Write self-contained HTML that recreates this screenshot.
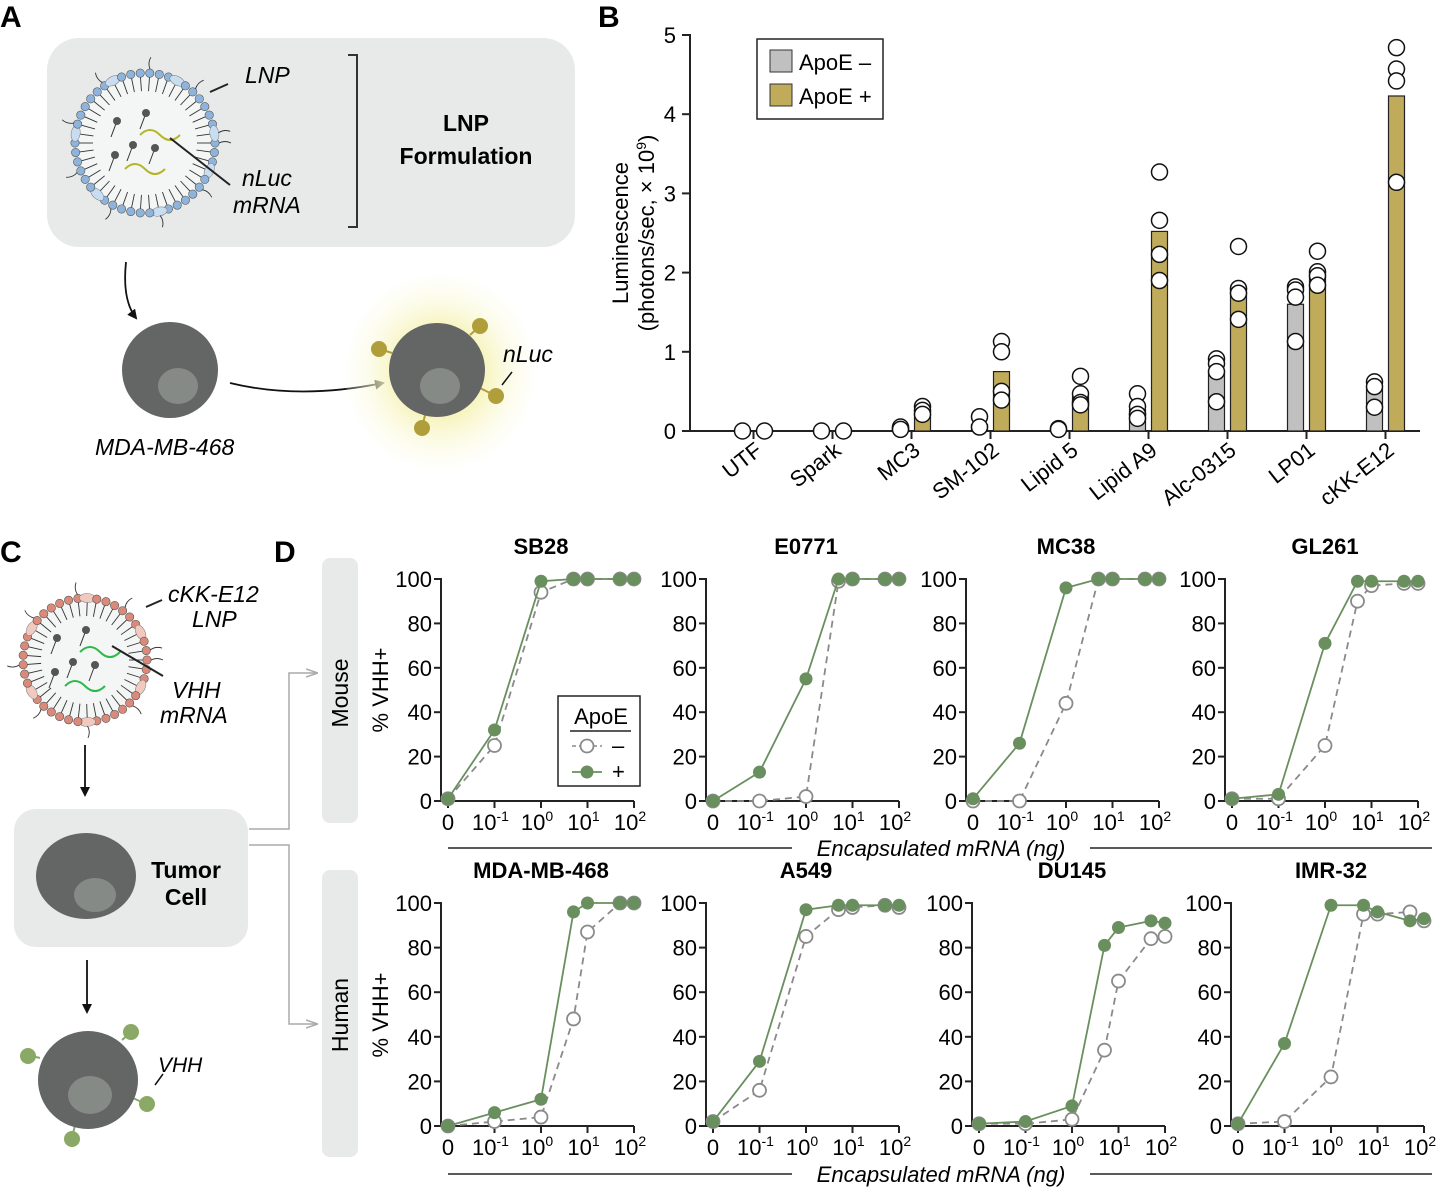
<!DOCTYPE html>
<html><head><meta charset="utf-8"><style>
html,body{margin:0;padding:0;background:#fff}
svg{display:block;font-family:"Liberation Sans",Arial,sans-serif}
</style></head><body>
<svg id="fig" width="1442" height="1187" viewBox="0 0 1442 1187" xmlns="http://www.w3.org/2000/svg">
<defs>
<marker id="ah" markerWidth="10" markerHeight="10" refX="8" refY="5" orient="auto" markerUnits="userSpaceOnUse"><path d="M0,0 L10,5 L0,10 z" fill="#111"/></marker>
<marker id="ahg" markerWidth="12" markerHeight="10" refX="11" refY="5" orient="auto" markerUnits="userSpaceOnUse"><path d="M0,1 L12,5 L0,9" fill="none" stroke="#aaa" stroke-width="1.5"/></marker>
<radialGradient id="glow"><stop offset="0.45" stop-color="#f6f3b8"/><stop offset="1" stop-color="#fdfdf0" stop-opacity="0.2"/></radialGradient>
</defs>
<g font-weight="bold" font-size="30">
<text x="0" y="27">A</text>
<text x="598" y="27">B</text>
<text x="0" y="562">C</text>
<text x="274" y="562">D</text>
</g>
<!-- Panel A -->
<g>
<rect x="47" y="38" width="528" height="209" rx="32" fill="#e8e9e9"/>
<g id="lnpA"></g>
<line x1="210" y1="92" x2="228" y2="84" stroke="#222" stroke-width="2"/>
<line x1="170" y1="138" x2="230" y2="185" stroke="#222" stroke-width="2"/>
<text x="245" y="83" font-size="23" font-style="italic">LNP</text>
<text x="242" y="186" font-size="23" font-style="italic">nLuc</text>
<text x="233" y="213" font-size="23" font-style="italic">mRNA</text>
<path d="M348,55 H357 V227 H348" fill="none" stroke="#333" stroke-width="2"/>
<text x="466" y="131" font-size="23" font-weight="bold" text-anchor="middle">LNP</text>
<text x="466" y="164" font-size="23" font-weight="bold" text-anchor="middle">Formulation</text>
<path d="M126,262 Q122,300 136,318" fill="none" stroke="#111" stroke-width="1.8" marker-end="url(#ah)"/>
<ellipse cx="170" cy="370" rx="48" ry="48" fill="#646565"/>
<ellipse cx="178" cy="386" rx="20" ry="18" fill="#868a87"/>
<text x="95" y="455" font-size="23" font-style="italic">MDA-MB-468</text>
<path d="M230,383 Q300,400 383,383" fill="none" stroke="#111" stroke-width="1.8" marker-end="url(#ah)"/>
<ellipse cx="440" cy="372" rx="95" ry="98" fill="url(#glow)" opacity="0.95"/>
<g stroke="#b09e3a" stroke-width="2"><line x1="392" y1="353" x2="380" y2="349"/><line x1="470" y1="335" x2="480" y2="326"/><line x1="480" y1="388" x2="496" y2="396"/><line x1="425" y1="415" x2="422" y2="428"/></g>
<ellipse cx="437" cy="370" rx="48" ry="47" fill="#646565"/>
<ellipse cx="440" cy="386" rx="20" ry="18" fill="#868a87"/>
<g fill="#b09e3a"><circle cx="379" cy="349" r="8"/><circle cx="480" cy="326" r="8"/><circle cx="496" cy="396" r="8"/><circle cx="422" cy="428" r="8"/></g>
<line x1="502" y1="385" x2="512" y2="372" stroke="#111" stroke-width="1.5"/>
<text x="503" y="362" font-size="23" font-style="italic">nLuc</text>
</g>
<!-- Panel C -->
<g>
<g id="lnpC"></g>
<line x1="146" y1="607" x2="162" y2="600" stroke="#222" stroke-width="2"/>
<line x1="112" y1="646" x2="163" y2="676" stroke="#222" stroke-width="2"/>
<text x="168" y="602" font-size="23" font-style="italic">cKK-E12</text>
<text x="192" y="627" font-size="23" font-style="italic">LNP</text>
<text x="172" y="698" font-size="23" font-style="italic">VHH</text>
<text x="160" y="723" font-size="23" font-style="italic">mRNA</text>
<line x1="85" y1="745" x2="85" y2="795" stroke="#111" stroke-width="1.8" marker-end="url(#ah)"/>
<rect x="14" y="809" width="234" height="138" rx="22" fill="#e8e9e9"/>
<ellipse cx="86" cy="876" rx="50" ry="43" fill="#646565"/>
<ellipse cx="95" cy="895" rx="21" ry="17" fill="#868a87"/>
<text x="186" y="878" font-size="23" font-weight="bold" text-anchor="middle">Tumor</text>
<text x="186" y="905" font-size="23" font-weight="bold" text-anchor="middle">Cell</text>
<line x1="87" y1="960" x2="87" y2="1012" stroke="#111" stroke-width="1.8" marker-end="url(#ah)"/>
<g stroke="#8aa866" stroke-width="2"><line x1="40" y1="1058" x2="28" y2="1055"/><line x1="122" y1="1040" x2="130" y2="1033"/><line x1="133" y1="1098" x2="146" y2="1104"/><line x1="75" y1="1125" x2="72" y2="1138"/></g>
<ellipse cx="88" cy="1080" rx="50" ry="49" fill="#646565"/>
<ellipse cx="90" cy="1095" rx="22" ry="19" fill="#868a87"/>
<g fill="#8aa866"><circle cx="28" cy="1056" r="8"/><circle cx="131" cy="1032" r="8"/><circle cx="147" cy="1104" r="8"/><circle cx="72" cy="1139" r="8"/></g>
<line x1="155" y1="1085" x2="163" y2="1074" stroke="#111" stroke-width="1.5"/>
<text x="158" y="1072" font-size="21" font-style="italic">VHH</text>
<path d="M249,829 H289 V673 H317" fill="none" stroke="#aaa" stroke-width="1.5" marker-end="url(#ahg)"/>
<path d="M249,845 H289 V1024 H317" fill="none" stroke="#aaa" stroke-width="1.5" marker-end="url(#ahg)"/>
<rect x="322" y="558" width="36" height="265" rx="8" fill="#e8e9e9"/>
<rect x="322" y="870" width="36" height="287" rx="8" fill="#e8e9e9"/>
<text transform="translate(348,693) rotate(-90)" font-size="23" text-anchor="middle">Mouse</text>
<text transform="translate(348,1015) rotate(-90)" font-size="23" text-anchor="middle">Human</text>
</g>
<g id="panelB"></g>
<g id="panelD"></g>
</svg>
<script>
// ===== Panel B data =====
const bCategories = ["UTF","Spark","MC3","SM-102","Lipid 5","Lipid A9","Alc-0315","LP01","cKK-E12"];
const bMinusMeans = [0,0,0.03,0.08,0.02,0.27,0.73,1.6,0.53];
const bPlusMeans  = [0,0,0.24,0.75,0.43,2.52,1.8,2.0,4.23];
const bMinusPoints = [[0],[0],[0.03,0.05,0.02],[0.18,0.05],[0.03,0.02],[0.47,0.31,0.21,0.16],[0.91,0.85,0.75,0.37],[1.82,1.78,1.69,1.13],[0.62,0.56,0.30]];
const bPlusPoints  = [[0],[0],[0.31,0.26,0.21],[1.13,1.0,0.5,0.39],[0.69,0.47,0.36,0.33],[3.27,2.66,2.23,1.9],[2.33,1.8,1.74,1.41],[2.27,2.01,1.96,1.84],[4.84,4.57,4.42,3.14]];
const bTicks = [0,1,2,3,4,5];

// ===== Panel D data =====
const dDoses = [0,0.1,1,5,10,50,100];
const dTitles = ["SB28","E0771","MC38","GL261","MDA-MB-468","A549","DU145","IMR-32"];
const dMinus = [
 [1,25,94,100,100,100,100],
 [0,0,2,99,100,100,100],
 [0,0,44,100,100,100,100],
 [1,1,25,90,97,98,98],
 [0,2,4,48,87,100,100],
 [2,16,85,97,98,99,98],
 [1,1,3,34,65,84,85],
 [1,2,22,95,95,96,92]];
const dPlus = [
 [1,32,99,100,100,100,100],
 [0,13,55,100,100,100,100],
 [1,26,96,100,100,100,100],
 [1,3,71,99,99,99,99],
 [0,6,12,96,100,100,100],
 [2,29,97,99,99,99,99],
 [1,2,9,81,89,92,91],
 [1,37,99,99,96,92,93]];
const dYTicks = [0,20,40,60,80,100];
const dXTickLabels = [["0",""],["10","-1"],["10","0"],["10","1"],["10","2"]];

const NS="http://www.w3.org/2000/svg";
function mk(parent,tag,attrs,txt){const e=document.createElementNS(NS,tag);for(const k in attrs)e.setAttribute(k,attrs[k]);if(txt!==undefined)e.textContent=txt;parent.appendChild(e);return e;}

function drawLNP(gid,cx,cy,r,bead,oval,rna){
  const g=document.getElementById(gid);
  
  
  mk(g,'circle',{cx:cx,cy:cy,r:r,fill:'#f4f5f5'});
  const n=Math.round(2*Math.PI*r/9.5);
  for(let i=0;i<n;i++){const a=i/n*2*Math.PI;const c=Math.cos(a),s=Math.sin(a);
    mk(g,'line',{x1:cx+c*(r-4),y1:cy+s*(r-4),x2:cx+c*(r-18),y2:cy+s*(r-18),stroke:'#333','stroke-width':0.9});}
  for(let i=0;i<n;i++){const a=i/n*2*Math.PI;const c=Math.cos(a),s=Math.sin(a);
    if(i%7===3){mk(g,'ellipse',{cx:cx+c*r,cy:cy+s*r,rx:8,ry:4.5,fill:oval,stroke:'#777','stroke-width':0.5,transform:`rotate(${a*180/Math.PI+90} ${cx+c*r} ${cy+s*r})`});}
    else mk(g,'circle',{cx:cx+c*r,cy:cy+s*r,r:4.2,fill:bead,stroke:'#555','stroke-width':0.6});
    if(i%5===0)mk(g,'path',{d:`M${cx+c*(r+4)},${cy+s*(r+4)} q${c*6+s*3},${s*6-c*3} ${c*12},${s*12}`,fill:'none',stroke:'#333','stroke-width':0.9});}
  const lips=[[-28,-22],[1,-30],[-12,2],[10,5],[-30,12]];
  lips.forEach(p=>{mk(g,'line',{x1:cx+p[0],y1:cy+p[1],x2:cx+p[0]-6,y2:cy+p[1]+16,stroke:'#333','stroke-width':1});
    mk(g,'circle',{cx:cx+p[0],cy:cy+p[1],r:4,fill:'#555'});});
  mk(g,'path',{d:`M${cx-5},${cy-8} q10,-10 20,0 t20,0`,fill:'none',stroke:rna,'stroke-width':2});
  mk(g,'path',{d:`M${cx-20},${cy+26} q10,-10 20,0 t20,0`,fill:'none',stroke:rna,'stroke-width':2});
}
drawLNP('lnpA',145,143,70,'#8fb4dc','#c8ddf0','#b5b52a');
drawLNP('lnpC',85,660,62,'#d98a7a','#f2c9be','#2db84a');

// ===== Panel B chart =====
(function(){
  const g=document.getElementById('panelB');
  const X0=690, Y0=431, PX=79.2, XR=1420;
  const y=v=>Y0-v*PX;
  const cx=i=>753.5+i*79;
  mk(g,'line',{x1:X0,y1:y(5)-1,x2:X0,y2:Y0+1,stroke:'#222','stroke-width':2});
  mk(g,'line',{x1:X0,y1:Y0,x2:XR,y2:Y0,stroke:'#222','stroke-width':2});
  bTicks.forEach(t=>{
    const tk=mk(g,'line',{x1:X0-8,y1:y(t),x2:X0,y2:y(t),stroke:'#222','stroke-width':2});
    
    
    const tl=mk(g,'text',{x:X0-14,y:y(t)+8,'font-size':22,'text-anchor':'end'},String(t));
    
    
  });
  const yt=mk(g,'text',{transform:'translate(628,233) rotate(-90)','font-size':22,'text-anchor':'middle'});
  
  
  mk(yt,'tspan',{x:0,dy:0},'Luminescence');
  mk(yt,'tspan',{x:0,dy:26},'(photons/sec, × 10');
  mk(yt,'tspan',{dy:-8,'font-size':14},'9');
  mk(yt,'tspan',{dy:8},')');
  bCategories.forEach((c,i)=>{
    const tk=mk(g,'line',{x1:cx(i),y1:Y0,x2:cx(i),y2:Y0+8,stroke:'#222','stroke-width':2});
    
    
    const lb=mk(g,'text',{transform:`translate(${cx(i)+10},${Y0+22}) rotate(-38)`,'font-size':22,'text-anchor':'end'},c);
    
    
    [[bMinusMeans,bMinusPoints,'#c0c0c0',-11],[bPlusMeans,bPlusPoints,'#bfab5a',11]].forEach(([m,p,col,off])=>{
      const bx=cx(i)+off;
      if(m[i]>0){const b=mk(g,'rect',{x:bx-8,y:y(m[i]),width:16,height:Y0-y(m[i]),fill:col,stroke:'#222','stroke-width':1.2});
        
        }
      p[i].forEach(v=>{const d=mk(g,'circle',{cx:bx,cy:y(v),r:8,fill:'#fff',stroke:'#111','stroke-width':1.5});
        
        });
    });
  });
  const lg=mk(g,'g',{});
  
  
  mk(lg,'rect',{x:757,y:39,width:126,height:80,fill:'#fff',stroke:'#222','stroke-width':1.5});
  mk(lg,'rect',{x:770,y:50,width:22,height:22,fill:'#c0c0c0',stroke:'#333','stroke-width':1});
  mk(lg,'rect',{x:770,y:84,width:22,height:22,fill:'#bfab5a',stroke:'#333','stroke-width':1});
  const l1=mk(lg,'text',{x:799,y:70,'font-size':22},'ApoE –');
  
  
  const l2=mk(lg,'text',{x:799,y:104,'font-size':22},'ApoE +');
  
  
})();

// ===== Panel D charts =====
(function(){
  const g=document.getElementById('panelD');
  const x0s=[448,713,973,1232,448,713,979,1238];
  const ytop=[579,579,579,579,903,903,903,903];
  const ybot=[801,801,801,801,1126,1126,1126,1126];
  const DEC=46.5;
  const xpos=(k,d)=>x0s[k]+(d===0?0:(Math.log10(d)+2)*DEC);
  for(let k=0;k<8;k++){
    const sub=mk(g,'g',{});
    
    
    const yv=v=>ybot[k]-(ybot[k]-ytop[k])*v/100;
    const ax=x0s[k]-7;
    mk(sub,'line',{x1:ax,y1:ytop[k]-1,x2:ax,y2:ybot[k]+1,stroke:'#222','stroke-width':2});
    mk(sub,'line',{x1:ax,y1:ybot[k],x2:x0s[k]+4*DEC,y2:ybot[k],stroke:'#222','stroke-width':2});
    dYTicks.forEach(t=>{
      mk(sub,'line',{x1:ax-7,y1:yv(t),x2:ax,y2:yv(t),stroke:'#222','stroke-width':2});
      const tl=mk(sub,'text',{x:ax-9,y:yv(t)+8,'font-size':22,'text-anchor':'end'},String(t));
      
      
    });
    dXTickLabels.forEach((lab,j)=>{
      const tx=x0s[k]+j*DEC;
      mk(sub,'line',{x1:tx,y1:ybot[k],x2:tx,y2:ybot[k]+7,stroke:'#222','stroke-width':2});
      const t=mk(sub,'text',{x:tx-(lab[1]?4:0),y:ybot[k]+29,'font-size':22,'text-anchor':'middle'});
      
      
      mk(t,'tspan',{},lab[0]);
      if(lab[1])mk(t,'tspan',{dy:-9,'font-size':14},lab[1]);
    });
    const tt=mk(sub,'text',{x:x0s[k]+93,y:ytop[k]-25,'font-size':22,'font-weight':'bold','text-anchor':'middle'},dTitles[k]);
    
    
    const ptsM=dDoses.map((d,i)=>`${xpos(k,d)},${yv(dMinus[k][i])}`).join(' ');
    const ptsP=dDoses.map((d,i)=>`${xpos(k,d)},${yv(dPlus[k][i])}`).join(' ');
    const lm=mk(sub,'polyline',{points:ptsM,fill:'none',stroke:'#8a8a8a','stroke-width':1.8,'stroke-dasharray':'7,5'});
    
    
    dDoses.forEach((d,i)=>{const c=mk(sub,'circle',{cx:xpos(k,d),cy:yv(dMinus[k][i]),r:6.5,fill:'#fff',stroke:'#8a8a8a','stroke-width':1.8});
      
      });
    const lp=mk(sub,'polyline',{points:ptsP,fill:'none',stroke:'#6a8f5e','stroke-width':1.8});
    
    
    dDoses.forEach((d,i)=>{const c=mk(sub,'circle',{cx:xpos(k,d),cy:yv(dPlus[k][i]),r:6.5,fill:'#6a8f5e'});
      
      });
  }
  [[690],[1015]].forEach(([cy])=>{
    const t=mk(g,'text',{transform:`translate(388,${cy}) rotate(-90)`,'font-size':22,'text-anchor':'middle'},'% VHH+');
    
    
  });
  [848,1174].forEach(yy=>{
    mk(g,'line',{x1:448,y1:yy,x2:792,y2:yy,stroke:'#222','stroke-width':1.5});
    mk(g,'line',{x1:1090,y1:yy,x2:1432,y2:yy,stroke:'#222','stroke-width':1.5});
    const t=mk(g,'text',{x:941,y:yy+8,'font-size':22,'font-style':'italic','text-anchor':'middle'},'Encapsulated mRNA (ng)');
    
    
  });
  const lg=mk(g,'g',{});
  
  
  mk(lg,'rect',{x:558,y:696,width:82,height:90,fill:'#fff',stroke:'#222','stroke-width':1.5});
  mk(lg,'text',{x:601,y:724,'font-size':22,'text-anchor':'middle'},'ApoE');
  mk(lg,'line',{x1:570,y1:731,x2:631,y2:731,stroke:'#222','stroke-width':1.5});
  mk(lg,'line',{x1:572,y1:746,x2:602,y2:746,stroke:'#8a8a8a','stroke-width':1.5,'stroke-dasharray':'4,3'});
  mk(lg,'circle',{cx:587,cy:746,r:6.5,fill:'#fff',stroke:'#8a8a8a','stroke-width':1.8});
  mk(lg,'text',{x:612,y:753,'font-size':22},'–');
  mk(lg,'line',{x1:572,y1:772,x2:602,y2:772,stroke:'#6a8f5e','stroke-width':1.8});
  mk(lg,'circle',{cx:587,cy:772,r:6.5,fill:'#6a8f5e'});
  mk(lg,'text',{x:612,y:779,'font-size':22},'+');
})();
</script>
</body></html>
